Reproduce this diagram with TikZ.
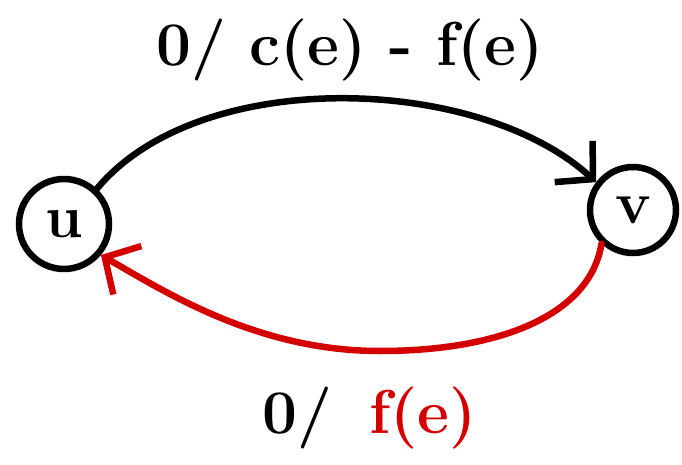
\documentclass[tikz,border=0pt]{standalone}
\usetikzlibrary{arrows.meta}
\definecolor{hred}{RGB}{212,0,0}
\begin{document}
\begin{tikzpicture}[x=1pt,y=-1pt,line width=6.5pt,line cap=round,line join=round,
  state/.style={draw,circle,inner sep=0pt,font=\fontsize{60}{60}\selectfont\bfseries},
  lab/.style={inner sep=0pt,font=\fontsize{62}{70}\selectfont\bfseries},
  barb/.style={-{Straight Barb[length=26pt,width=56pt]}}]
\useasboundingbox (0,0) rectangle (682,465);
\node[state,minimum size=90pt] (u) at (64,224) {u};
\node[state,minimum size=86pt] (v) at (633,210) {v};
\draw[barb] (u.47) .. controls (200,65) and (480,75) .. (v.143);
\coordinate (rb) at (380,351);
\draw[barb,hred] (v.-133) .. controls (590,315) and (500,351) .. (rb)
  .. controls (260,351) and (170,295) .. (u.-40);
\node[lab] (top) at (350,50) {0/ c(e) - f(e)};
\node[lab,anchor=base east] (zero) at (336,433) {0/};
\node[lab,anchor=base west,text=hred] (fe) at (366,433) {f(e)};
\end{tikzpicture}
\end{document}
